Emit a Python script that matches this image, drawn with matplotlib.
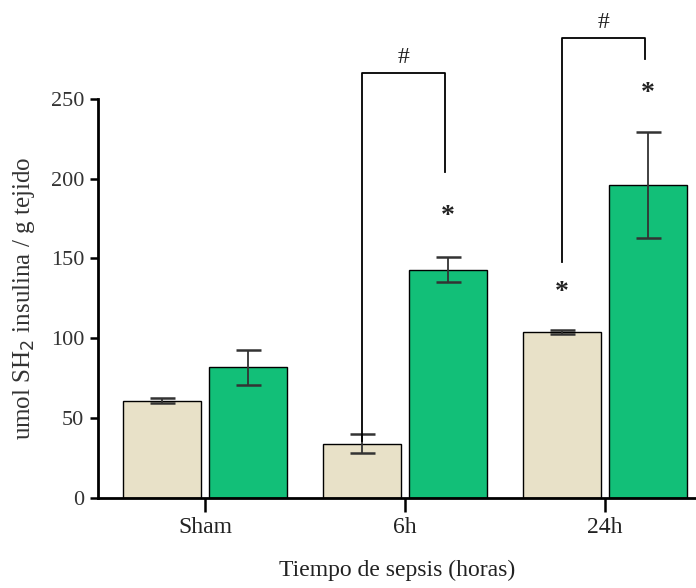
import numpy as np
import matplotlib.pyplot as plt

groups = ["Sham", "6h", "24h"]
control = [61, 34, 104]
control_err = [1.5, 6, 1.5]
insulin = [82, 143, 196]
insulin_err = [11, 8, 33]

# significance marks: (group, bar, y)
stars = [(1, 1, 176), (2, 0, 129), (2, 1, 253)]
# brackets: (group, left leg bottom, right leg bottom, top)
brackets = [(1, 36, 204, 266), (2, 148, 275, 288)]

BEIGE = "#E8E1C8"
GREEN = "#12BF78"

plt.rcParams['font.family'] = ['Liberation Serif', 'DejaVu Serif']

fig = plt.figure(figsize=(6.96, 5.88), dpi=100)
ax = fig.add_axes([0.141, 0.153, 1 - 0.141, 0.679])

x = np.arange(len(groups))
w = 0.39
off = 0.215
ax.bar(x - off, control, w, color=BEIGE, edgecolor="black", linewidth=1.0)
ax.bar(x + off, insulin, w, color=GREEN, edgecolor="black", linewidth=1.0)
ax.errorbar(x - off, control, yerr=control_err, fmt="none", ecolor="#333333",
            elinewidth=1.3, capsize=9, capthick=1.8)
ax.errorbar(x + off, insulin, yerr=insulin_err, fmt="none", ecolor="#333333",
            elinewidth=1.3, capsize=9, capthick=1.8)

for g, b, y in stars:
    xs = g - off if b == 0 else g + off
    ax.text(xs, y, "*", ha="center", va="center", fontsize=20,
            fontweight="bold", color="#222222", clip_on=False)

for g, yl, yr, top in brackets:
    xl, xr = g - off, g + 0.2
    ax.plot([xl, xl, xr, xr], [yl, top, top, yr], color="black", lw=1.3,
            clip_on=False)
    ax.text((xl + xr) / 2, top + 3, "#", ha="center", va="bottom", fontsize=17,
            color="#222222", clip_on=False)

ax.set_xlim(-0.535, 2.455)
ax.set_ylim(0, 250)
ax.set_yticks([0, 50, 100, 150, 200, 250])
ax.set_xticks(x)
ax.set_xticklabels(groups)
ax.tick_params(axis="y", labelsize=16, width=1.8, length=6, pad=4,
               labelcolor="#333333")
ax.tick_params(axis="x", labelsize=17, width=1.8, length=10, pad=4,
               labelcolor="#222222")

for s in ["top", "right"]:
    ax.spines[s].set_visible(False)
for s in ["left", "bottom"]:
    ax.spines[s].set_linewidth(2.0)

ax.set_ylabel("umol SH$_2$ insulina / g tejido", fontsize=18, color="#333333",
              labelpad=10)
ax.set_xlabel("Tiempo de sepsis (horas)", fontsize=17, color="#222222",
              labelpad=15)

fig.savefig("out.png", dpi=100)
